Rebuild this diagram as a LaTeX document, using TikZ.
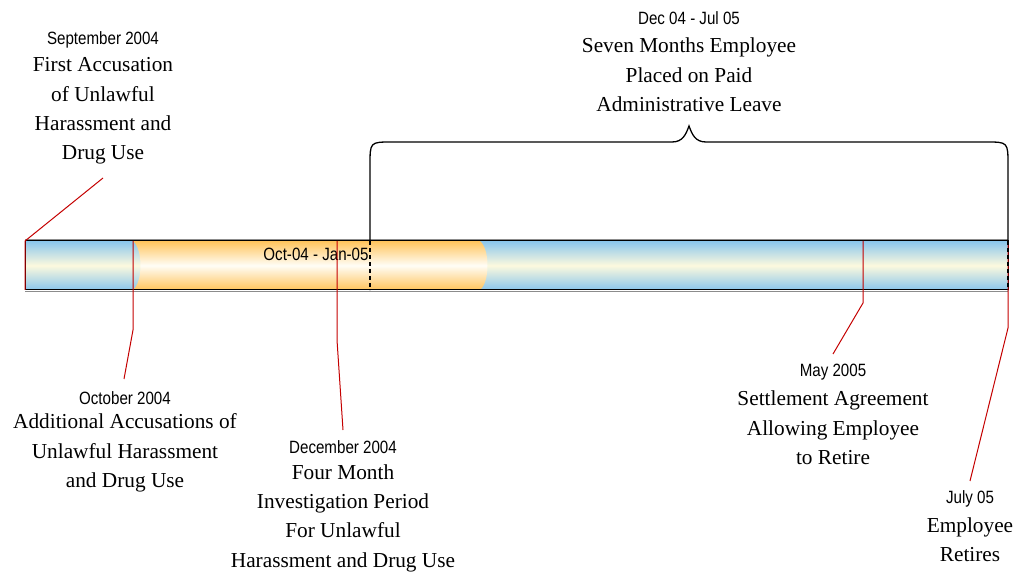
\documentclass[tikz,border=0pt]{standalone}
\usepackage{fontspec}
\setmainfont{Liberation Serif}
\newfontfamily\lblfont[FakeStretch=0.85]{Liberation Sans}
\definecolor{barblue}{RGB}{138,198,236}
\definecolor{barcream}{RGB}{252,249,222}
\definecolor{barorange}{RGB}{255,196,92}
\definecolor{barorangemid}{RGB}{255,253,246}
\definecolor{leadred}{RGB}{196,0,0}
\begin{document}
\begin{tikzpicture}[x=1pt,y=-1pt,
  desc/.style={inner sep=0pt, align=center, font=\fontsize{21.3}{29.3}\selectfont},
  datelbl/.style={inner sep=0pt, font=\lblfont\fontsize{17.8}{20}\selectfont},
  leader/.style={draw=leadred, line width=1pt},
  dashmark/.style={draw=black, line width=1.3pt, dash pattern=on 4pt off 3pt},
  bracepath/.style={draw=black, line width=1.3pt}]
\useasboundingbox (0,0) rectangle (1026,577);
% bar fills
\shade[top color=barblue, bottom color=barblue, middle color=barcream] (25,241) rectangle (1008,290);
\shade[top color=barorange, bottom color=barorange, middle color=barorangemid]
  (133,241) -- (480,241) .. controls (490,249) and (490,282) .. (480,290) -- (133,290)
  .. controls (143,282) and (143,249) .. (133,241) -- cycle;
\draw[black!45, line width=1pt] (25,239.5) -- (1008,239.5) (25,291.5) -- (1008,291.5);
\draw[black, line width=1pt] (25,241) rectangle (1008,290);
% in-bar label
\node[datelbl] (bartext) at (316,254) {Oct-04 - Jan-05};
% labels
\node[datelbl] (sepdate) at (103,40) {September 2004};
\node[desc] (sepdesc) at (103,111) {First Accusation\\of Unlawful\\Harassment and\\Drug Use};
\node[datelbl] (octdate) at (125,398) {October 2004};
\node[desc] (octdesc) at (125,453) {Additional Accusations of\\Unlawful Harassment\\and Drug Use};
\node[datelbl] (decdate) at (343,447) {December 2004};
\node[desc] (decdesc) at (343,518) {Four Month\\Investigation Period\\For Unlawful\\Harassment and Drug Use};
\node[datelbl] (maydate) at (833,372) {May 2005};
\node[desc] (maydesc) at (833,428) {Settlement Agreement\\Allowing Employee\\to Retire};
\node[datelbl] (juldate) at (970,499) {July 05};
\node[desc] (juldesc) at (970,540) {Employee\\Retires};
\node[datelbl] (topdate) at (689,18) {Dec 04 - Jul 05};
\node[desc] (topdesc) at (689,75) {Seven Months Employee\\Placed on Paid\\Administrative Leave};
% leader coordinates
\coordinate (s0) at (25,290);
\coordinate (s1) at (25,241);
\coordinate (s2) at (103,178);
\coordinate (o1) at (133,241);
\coordinate (o2) at (133,330);
\coordinate (o3) at (124,379);
\coordinate (d1) at (337,241);
\coordinate (d2) at (337,340);
\coordinate (d3) at (343,430);
\coordinate (m1) at (863,241);
\coordinate (m2) at (863,303);
\coordinate (m3) at (833,354);
\coordinate (j1) at (1008,241);
\coordinate (j2) at (1008,328);
\coordinate (j3) at (970,481);
\draw[leader] (s0) -- (s1) -- (s2);
\draw[leader] (o1) -- (o2) -- (o3);
\draw[leader] (d1) -- (d2) -- (d3);
\draw[leader] (m1) -- (m2) -- (m3);
\draw[leader] (j1) -- (j2) -- (j3);
% dashed markers
\draw[dashmark] (370,241) -- (370,290);
\draw[dashmark] (1008,241) -- (1008,290);
% brace
\draw[bracepath] (370,241) -- (370,165) .. controls (370,142) .. (392,142) -- (672,142)
  .. controls (683,142) and (686,134) .. (689,126)
  .. controls (692,134) and (695,142) .. (706,142) -- (986,142)
  .. controls (1008,142) .. (1008,165) -- (1008,241);
\end{tikzpicture}
\end{document}
